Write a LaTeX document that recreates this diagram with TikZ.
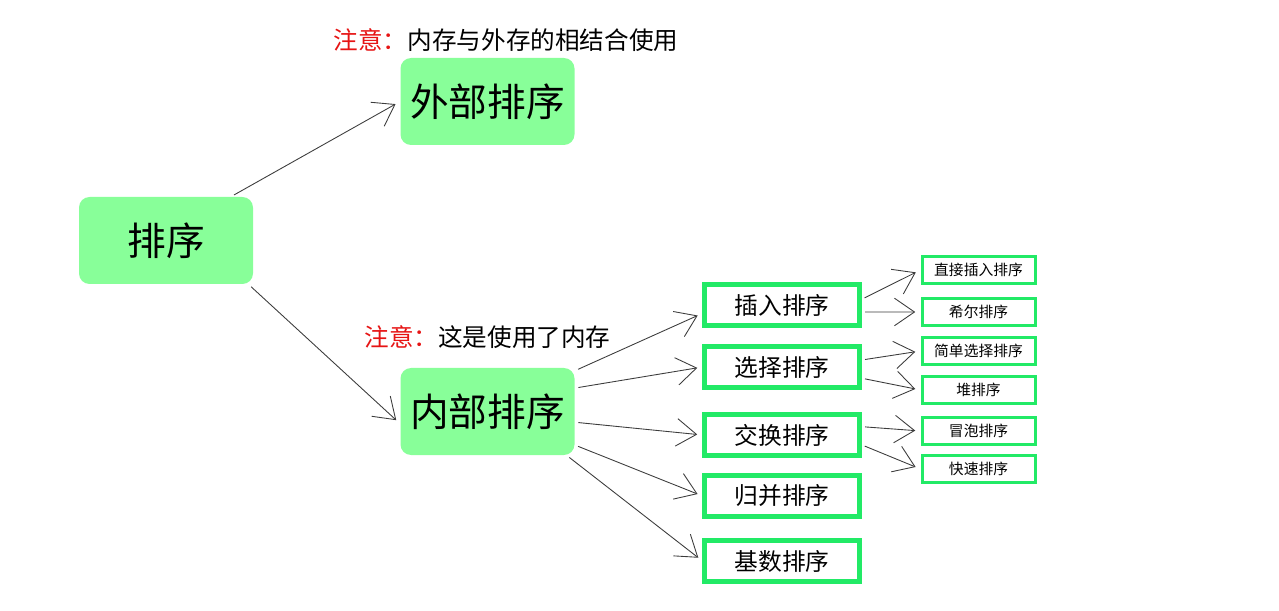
\documentclass[tikz,border=0pt]{standalone}
\usepackage{fontspec}
\setmainfont{Noto Sans CJK SC}
\usetikzlibrary{arrows.meta,positioning}
\definecolor{sortgreen}{RGB}{136,255,153}
\definecolor{edgegreen}{RGB}{34,234,102}
\definecolor{arrowdark}{RGB}{60,60,60}
\definecolor{notered}{RGB}{230,20,20}

\begin{document}
\begin{tikzpicture}[>={Straight Barb[length=0.4cm,width=0.55cm]}]
\tikzstyle{bigbox}=[fill=sortgreen,rounded corners=6pt,minimum width=3.48cm,minimum height=1.74cm,align=center,font=\fontsize{22}{26}\selectfont]
\tikzstyle{midbox}=[draw=edgegreen,line width=2.3pt,fill=white,minimum width=3.1cm,minimum height=0.82cm,font=\fontsize{13.5}{16}\selectfont]
\tikzstyle{smallbox}=[draw=edgegreen,line width=1.7pt,fill=white,minimum width=2.26cm,minimum height=0.55cm,font=\fontsize{8.4}{10}\selectfont]
\tikzstyle{note}=[font=\fontsize{14}{17}\selectfont]
\tikzstyle{arr}=[->,arrowdark,line width=0.5pt,shorten <=2pt,shorten >=3pt]
\useasboundingbox (0,0) rectangle (25.58,-12.22);
% main level
\node[bigbox] (sort) at (3.32,-4.81) {排序};
\node[bigbox] (ext) at (9.75,-2.03) {外部排序};
\node[bigbox] (inner) at (9.75,-8.23) {内部排序};
\node[note] (extnote) at (10.12,-0.80) {\textcolor{notered}{注意：}内存与外存的相结合使用};
\node[note] (innote) at (9.75,-6.74) {\textcolor{notered}{注意：}这是使用了内存};
% internal methods
\node[midbox] (ins) at (15.64,-6.10) {插入排序};
\node[midbox] (sel) at (15.64,-7.34) {选择排序};
\node[midbox] (swp) at (15.64,-8.70) {交换排序};
\node[midbox] (mrg) at (15.64,-9.92) {归并排序};
\node[midbox] (rad) at (15.64,-11.22) {基数排序};
% concrete algorithms
\node[smallbox] (dins) at (19.57,-5.40) {直接插入排序};
\node[smallbox] (shell) at (19.57,-6.24) {希尔排序};
\node[smallbox] (ssel) at (19.57,-7.02) {简单选择排序};
\node[smallbox] (heap) at (19.57,-7.80) {堆排序};
\node[smallbox] (bub) at (19.57,-8.62) {冒泡排序};
\node[smallbox] (qck) at (19.57,-9.38) {快速排序};
\draw[arr] (sort.34) -- (ext.west);
\draw[arr] (sort.-28) -- (inner.188);
\draw[arr] (inner.25) -- (ins.186);
\draw[arr] (inner.15) -- (sel.west);
\draw[arr] (inner.-7) -- (swp.west);
\draw[arr] (inner.-21) -- (mrg.west);
\draw[arr] (inner.-29) -- (rad.west);
\draw[arr] (ins.4) -- (dins.west);
\draw[arr] (ins.-5) -- (shell.west);
\draw[arr] (sel.5) -- (ssel.west);
\draw[arr] (sel.-8) -- (heap.west);
\draw[arr] (swp.6) -- (bub.west);
\draw[arr] (swp.-7) -- (qck.west);
\end{tikzpicture}
\end{document}
